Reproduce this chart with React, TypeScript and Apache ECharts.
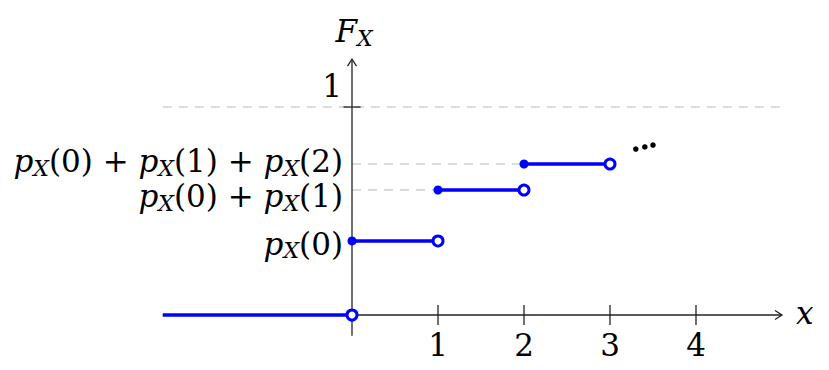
import React, { useEffect, useRef } from "react";
import * as echarts from "echarts";

// Axis ranges
const X_MIN = -2.2;
const X_MAX = 5.0;
const Y_MIN = -0.1;
const Y_MAX = 1.23;

// Tick values and labels
const xTickValues = [1, 2, 3, 4];
const xTickLabels = ["1", "2", "3", "4"];
const yTickValues = [1];

// Step function pieces of the CDF
const stepLeft = [-2.2, 0, 1, 2];
const stepRight = [0, 1, 2, 3];
const stepValue = [0, 0.356, 0.601, 0.726];
const closedLeft = [false, true, true, true];

// Dashed guide lines
const guideY = [1, 0.726, 0.601];
const guideX0 = [-2.2, 0, 0];
const guideX1 = [5.0, 2, 1];

// Y-axis labels
const yLabelValues = [1, 0.726, 0.601, 0.356];
const yLabelTexts = ["1", "p_X(0) + p_X(1) + p_X(2)", "p_X(0) + p_X(1)", "p_X(0)"];

// Continuation dots
const ellipsisX = [3.3, 3.405, 3.5];
const ellipsisY = [0.798, 0.808, 0.817];

// layout nudges (pixels) for the y labels, same order as yLabelValues
const yLabelNudge = [-21, -3, 6, 3];

const FONT = "'DejaVu Serif', 'Liberation Serif', serif";
const MAIN = 31;
const SUB = 22;
const BLUE = "#0000ff";
const AXIS = "#222222";

const rich = {
  n: { fontFamily: FONT, fontSize: MAIN, fill: "#000", lineHeight: 34 },
  i: { fontFamily: FONT, fontSize: MAIN, fontStyle: "italic", fill: "#000", lineHeight: 34 },
  s: { fontFamily: FONT, fontSize: SUB, fontStyle: "italic", fill: "#000", lineHeight: 20, padding: [14, 0, 0, 0] },
};

function toRich(s: string): string {
  return s
    .split(/(p_X)/)
    .filter((p) => p.length > 0)
    .map((p) => (p === "p_X" ? "{i|p}{s|X}" : `{n|${p}}`))
    .join("");
}

export default function App() {
  const ref = useRef<HTMLDivElement>(null);
  useEffect(() => {
    document.body.style.margin = "0";
    if (!ref.current) return;
    const chart = echarts.init(ref.current, undefined, { renderer: "svg" });

    const series: any[] = [];

    // dashed guides
    guideY.forEach((y, k) => {
      series.push({
        type: "line",
        silent: true,
        symbol: "none",
        z: 1,
        data: [
          [guideX0[k], y],
          [guideX1[k], y],
        ],
        lineStyle: { color: "#b8b8b8", width: 1.1, type: [9, 7] },
      });
    });

    // axes, arrows and axis titles
    series.push({
      type: "custom",
      silent: true,
      z: 2,
      data: [[0, 0]],
      renderItem: (_p: any, api: any) => {
        const a = api.coord([X_MIN, 0]);
        const b = api.coord([X_MAX, 0]);
        const c = api.coord([0, Y_MIN]);
        const d = api.coord([0, Y_MAX]);
        const ls = { stroke: AXIS, lineWidth: 1.3, fill: "none" };
        return {
          type: "group",
          children: [
            { type: "line", shape: { x1: a[0], y1: a[1], x2: b[0], y2: b[1] }, style: ls },
            {
              type: "polyline",
              shape: { points: [[b[0] - 7, b[1] - 4.5], [b[0], b[1]], [b[0] - 7, b[1] + 4.5]] },
              style: ls,
            },
            { type: "line", shape: { x1: c[0], y1: c[1], x2: d[0], y2: d[1] }, style: ls },
            {
              type: "polyline",
              shape: { points: [[d[0] - 4.5, d[1] + 7], [d[0], d[1]], [d[0] + 4.5, d[1] + 7]] },
              style: ls,
            },
            {
              type: "text",
              x: b[0] + 14,
              y: b[1] - 2,
              style: { text: "{i|x}", rich, align: "left", verticalAlign: "middle" },
            },
            {
              type: "text",
              x: d[0] + 2,
              y: d[1] - 28,
              style: { text: "{i|F}{s|X}", rich, align: "center", verticalAlign: "middle" },
            },
          ],
        };
      },
    });

    // x ticks and labels
    series.push({
      type: "custom",
      silent: true,
      z: 2,
      data: xTickValues.map((v, k) => [v, 0, k]),
      renderItem: (_p: any, api: any) => {
        const v = api.value(0);
        const k = api.value(2);
        const p = api.coord([v, 0]);
        return {
          type: "group",
          children: [
            {
              type: "line",
              shape: { x1: p[0], y1: p[1] - 10, x2: p[0], y2: p[1] + 10 },
              style: { stroke: AXIS, lineWidth: 1.3 },
            },
            {
              type: "text",
              x: p[0],
              y: p[1] + 30,
              style: { text: `{n|${xTickLabels[k]}}`, rich, align: "center", verticalAlign: "middle" },
            },
          ],
        };
      },
    });

    // y ticks
    series.push({
      type: "custom",
      silent: true,
      z: 3,
      data: yTickValues.map((v) => [0, v]),
      renderItem: (_p: any, api: any) => {
        const p = api.coord([0, api.value(1)]);
        return {
          type: "line",
          shape: { x1: p[0] - 8.5, y1: p[1], x2: p[0] + 8.5, y2: p[1] },
          style: { stroke: AXIS, lineWidth: 1.3 },
        };
      },
    });

    // y labels
    series.push({
      type: "custom",
      silent: true,
      z: 3,
      data: yLabelValues.map((v, k) => [0, v, k]),
      renderItem: (_p: any, api: any) => {
        const v = api.value(1);
        const k = api.value(2);
        const p = api.coord([0, v]);
        const top = v >= 1;
        return {
          type: "text",
          x: p[0] - (top ? 10 : 9),
          y: p[1] + yLabelNudge[k],
          style: { text: toRich(yLabelTexts[k]), rich, align: "right", verticalAlign: "middle" },
        };
      },
    });

    // blue step segments
    stepLeft.forEach((x0, k) => {
      series.push({
        type: "line",
        silent: true,
        symbol: "none",
        z: 5,
        data: [
          [x0, stepValue[k]],
          [stepRight[k], stepValue[k]],
        ],
        lineStyle: { color: BLUE, width: 3.4 },
      });
    });

    // closed (filled) endpoints
    series.push({
      type: "scatter",
      silent: true,
      z: 6,
      symbol: "circle",
      symbolSize: 9,
      itemStyle: { color: BLUE, opacity: 1 },
      data: stepLeft.map((x, k) => (closedLeft[k] ? [x, stepValue[k]] : null)).filter((d) => d !== null),
    });

    // open endpoints
    series.push({
      type: "scatter",
      silent: true,
      z: 7,
      symbol: "circle",
      symbolSize: 10,
      itemStyle: { color: "#ffffff", borderColor: BLUE, borderWidth: 3, opacity: 1 },
      data: stepRight.map((x, k) => [x, stepValue[k]]),
    });

    // ellipsis dots
    series.push({
      type: "scatter",
      silent: true,
      z: 7,
      symbol: "circle",
      symbolSize: 5.5,
      itemStyle: { color: "#000", opacity: 1 },
      data: ellipsisX.map((x, k) => [x, ellipsisY[k]]),
    });

    chart.setOption({
      animation: false,
      grid: { left: 162.8, right: 47, top: 59.2, bottom: 34.2, containLabel: false },
      xAxis: { type: "value", min: X_MIN, max: X_MAX, show: false },
      yAxis: { type: "value", min: Y_MIN, max: Y_MAX, show: false },
      series,
    });
    return () => chart.dispose();
  }, []);
  return <div ref={ref} style={{ width: 829, height: 370, background: "#fff" }} />;
}
